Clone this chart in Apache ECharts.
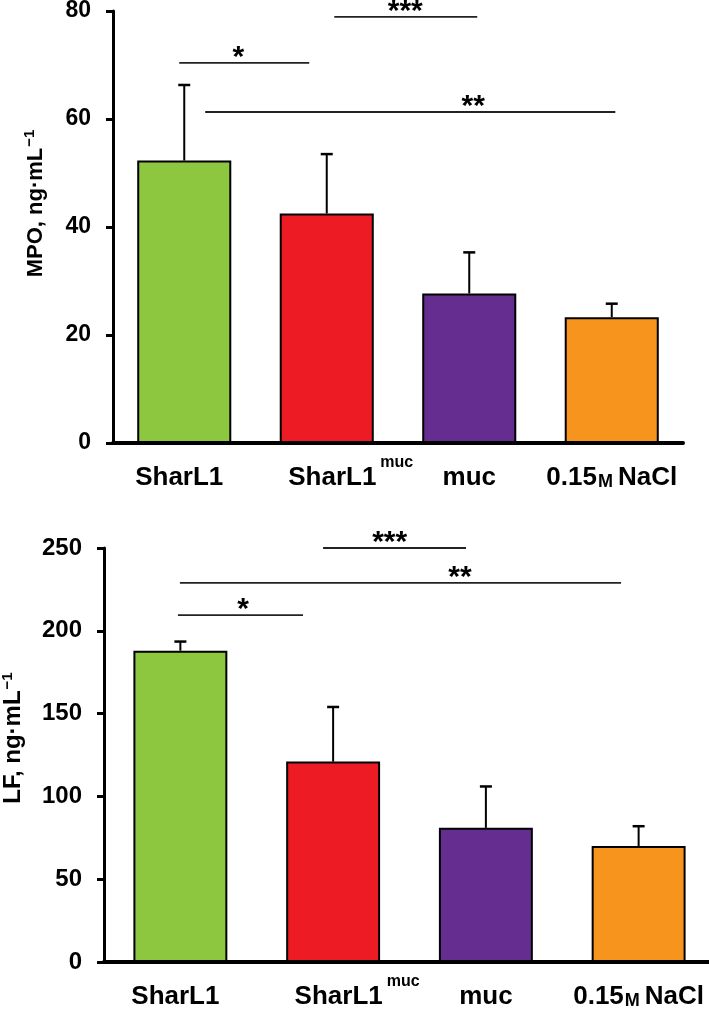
<!DOCTYPE html>
<html>
<head>
<meta charset="utf-8">
<script src="https://cdn.jsdelivr.net/npm/echarts@6/dist/echarts.min.js"></script>
<style>
  html, body { margin: 0; padding: 0; background: #fff; }
  #chart { width: 709px; height: 1010px; }
</style>
</head>
<body>
<div id="chart"></div>
<script>
  // groups, same order in both panels
  const categories = ['SharL1', 'SharL1muc', 'muc', '0.15M NaCl']
  const barColors = ['#8dc63f', '#ed1c24', '#662d91', '#f7941d']

  // MPO panel (mean and upper error bar end)
  const mpoMean = [52.3, 42.5, 27.7, 23.3]
  const mpoUpper = [66.3, 53.5, 35.3, 25.8]
  const mpoMax = 80
  const mpoStep = 20
  // significance marks: level, span (in category units), star position
  const mpoSigText = ['*', '***', '**']
  const mpoSigLevel = [70.4, 78.9, 61.3]
  const mpoSigFrom = [-0.035, 1.053, 0.147]
  const mpoSigTo = [0.877, 2.056, 3.025]
  const mpoSigAt = [0.379, 1.551, 2.028]

  // LF panel
  const lfMean = [188, 121, 81, 70]
  const lfUpper = [193.5, 154, 106, 82]
  const lfMax = 250
  const lfStep = 50
  const lfSigText = ['*', '**', '***']
  const lfSigLevel = [209.5, 229, 250]
  const lfSigFrom = [-0.016, -0.003, 0.934]
  const lfSigTo = [0.803, 2.885, 1.87]
  const lfSigAt = [0.41, 1.83, 1.37]

  const FONT = "'Liberation Sans', Arial, sans-serif"

  const catRich = {
    a: { fontSize: 26, lineHeight: 48, fontWeight: 'bold', fontFamily: FONT, color: '#000', verticalAlign: 'bottom' },
    b: { fontSize: 26, lineHeight: 48, fontWeight: 'bold', fontFamily: FONT, color: '#000', verticalAlign: 'bottom', padding: [0, 0, 0, 48] },
    c: { fontSize: 26, lineHeight: 48, fontWeight: 'bold', fontFamily: FONT, color: '#000', verticalAlign: 'bottom', padding: [0, 10, 0, 0] },
    sup: { fontSize: 16, fontWeight: 'bold', fontFamily: FONT, color: '#000', verticalAlign: 'bottom', padding: [0, 0, 20, 4] },
    sc: { fontSize: 18, lineHeight: 44, fontWeight: 'bold', fontFamily: FONT, color: '#000', verticalAlign: 'bottom', padding: [0, 5, 0, 1] }
  }
  function catLabel(v) {
    if (v === 'SharL1') return '{c|SharL1}'
    if (v === 'SharL1muc') return '{b|SharL1}{sup|muc}'
    if (v === '0.15M NaCl') return '{a|0.15}{sc|M}{a|NaCl}'
    return '{a|' + v + '}'
  }

  function errRender(params, api) {
    const base = api.coord([api.value(0), api.value(1)])
    const top = api.coord([api.value(0), api.value(2)])
    const cap = 6
    return {
      type: 'group',
      children: [
        { type: 'line', shape: { x1: base[0], y1: base[1], x2: top[0], y2: top[1] }, style: { stroke: '#000', lineWidth: 2 } },
        { type: 'line', shape: { x1: top[0] - cap, y1: top[1], x2: top[0] + cap, y2: top[1] }, style: { stroke: '#000', lineWidth: 2.5 } }
      ]
    }
  }

  function sigRender(texts) {
    return function (params, api) {
      const y = api.coord([0, api.value(0)])[1]
      const x0 = api.coord([0, 0])[0]
      const band = api.size([1, 0])[0]
      const px = v => x0 + v * band
      return {
        type: 'group',
        children: [
          { type: 'line', shape: { x1: px(api.value(1)), y1: y, x2: px(api.value(2)), y2: y }, style: { stroke: '#222', lineWidth: 1.8 } },
          {
            type: 'text', x: px(api.value(3)), y: y - 5,
            style: { text: texts[params.dataIndex], font: 'bold 30px ' + FONT, fill: '#000', align: 'center', verticalAlign: 'middle' }
          }
        ]
      }
    }
  }

  function yAxisOf(idx, max, step, name, fontSize, gap, nameSize, shift) {
    return {
      gridIndex: idx,
      type: 'value',
      min: 0,
      max: max,
      interval: step,
      name: name,
      nameLocation: 'middle',
      nameGap: gap,
      nameTextStyle: {
        rich: {
          n: { fontSize: nameSize, fontWeight: 'bold', fontFamily: FONT, color: '#000', verticalAlign: 'bottom' },
          s: { fontSize: 15, fontWeight: 'bold', fontFamily: FONT, color: '#000', verticalAlign: 'bottom', padding: [0, 0, 10, 1] }
        },
        padding: [0, 0, 0, shift]
      },
      axisLine: { show: true, lineStyle: { color: '#000', width: 3 } },
      axisTick: { show: true, length: 7, lineStyle: { color: '#000', width: 3 } },
      splitLine: { show: false },
      axisLabel: { margin: 22, fontSize: fontSize, fontWeight: 'bold', fontFamily: FONT, color: '#000' }
    }
  }

  function xAxisOf(idx) {
    return {
      gridIndex: idx,
      type: 'category',
      data: categories,
      axisLine: { lineStyle: { color: '#000', width: 4 } },
      axisTick: { show: false },
      axisLabel: { margin: 0, formatter: catLabel, rich: catRich, interval: 0 }
    }
  }

  function barData(vals) {
    return vals.map((v, i) => ({ value: v, itemStyle: { color: barColors[i] } }))
  }

  const myChart = echarts.init(document.getElementById('chart'))
  myChart.setOption({
    animation: false,
    backgroundColor: '#fff',
    grid: [
      { left: 113, right: 26, top: 11, height: 432, outerBoundsMode: 'none' },
      { left: 104, right: -6, top: 548, height: 414, outerBoundsMode: 'none' }
    ],
    xAxis: [xAxisOf(0), xAxisOf(1)],
    yAxis: [
      yAxisOf(0, mpoMax, mpoStep, '{n|MPO, ng·mL}{s|−1}', 23, 66, 22, 47),
      yAxisOf(1, lfMax, lfStep, '{n|LF, ng·mL}{s|−1}', 24, 79, 24, 34)
    ],
    series: [
      {
        type: 'bar', xAxisIndex: 0, yAxisIndex: 0, barWidth: '66%',
        itemStyle: { borderColor: '#000', borderWidth: 2 },
        data: barData(mpoMean)
      },
      {
        type: 'custom', xAxisIndex: 0, yAxisIndex: 0, z: 3,
        renderItem: errRender,
        data: mpoMean.map((v, i) => [i, v, mpoUpper[i]])
      },
      {
        type: 'custom', xAxisIndex: 0, yAxisIndex: 0, z: 4, clip: false,
        renderItem: sigRender(mpoSigText),
        data: mpoSigLevel.map((v, i) => [v, mpoSigFrom[i], mpoSigTo[i], mpoSigAt[i]])
      },
      {
        type: 'bar', xAxisIndex: 1, yAxisIndex: 1, barWidth: '61.5%',
        itemStyle: { borderColor: '#000', borderWidth: 2 },
        data: barData(lfMean)
      },
      {
        type: 'custom', xAxisIndex: 1, yAxisIndex: 1, z: 3,
        renderItem: errRender,
        data: lfMean.map((v, i) => [i, v, lfUpper[i]])
      },
      {
        type: 'custom', xAxisIndex: 1, yAxisIndex: 1, z: 4, clip: false,
        renderItem: sigRender(lfSigText),
        data: lfSigLevel.map((v, i) => [v, lfSigFrom[i], lfSigTo[i], lfSigAt[i]])
      }
    ]
  })

  window.onresize = function () {
    myChart.resize()
  }
</script>
</body>
</html>
